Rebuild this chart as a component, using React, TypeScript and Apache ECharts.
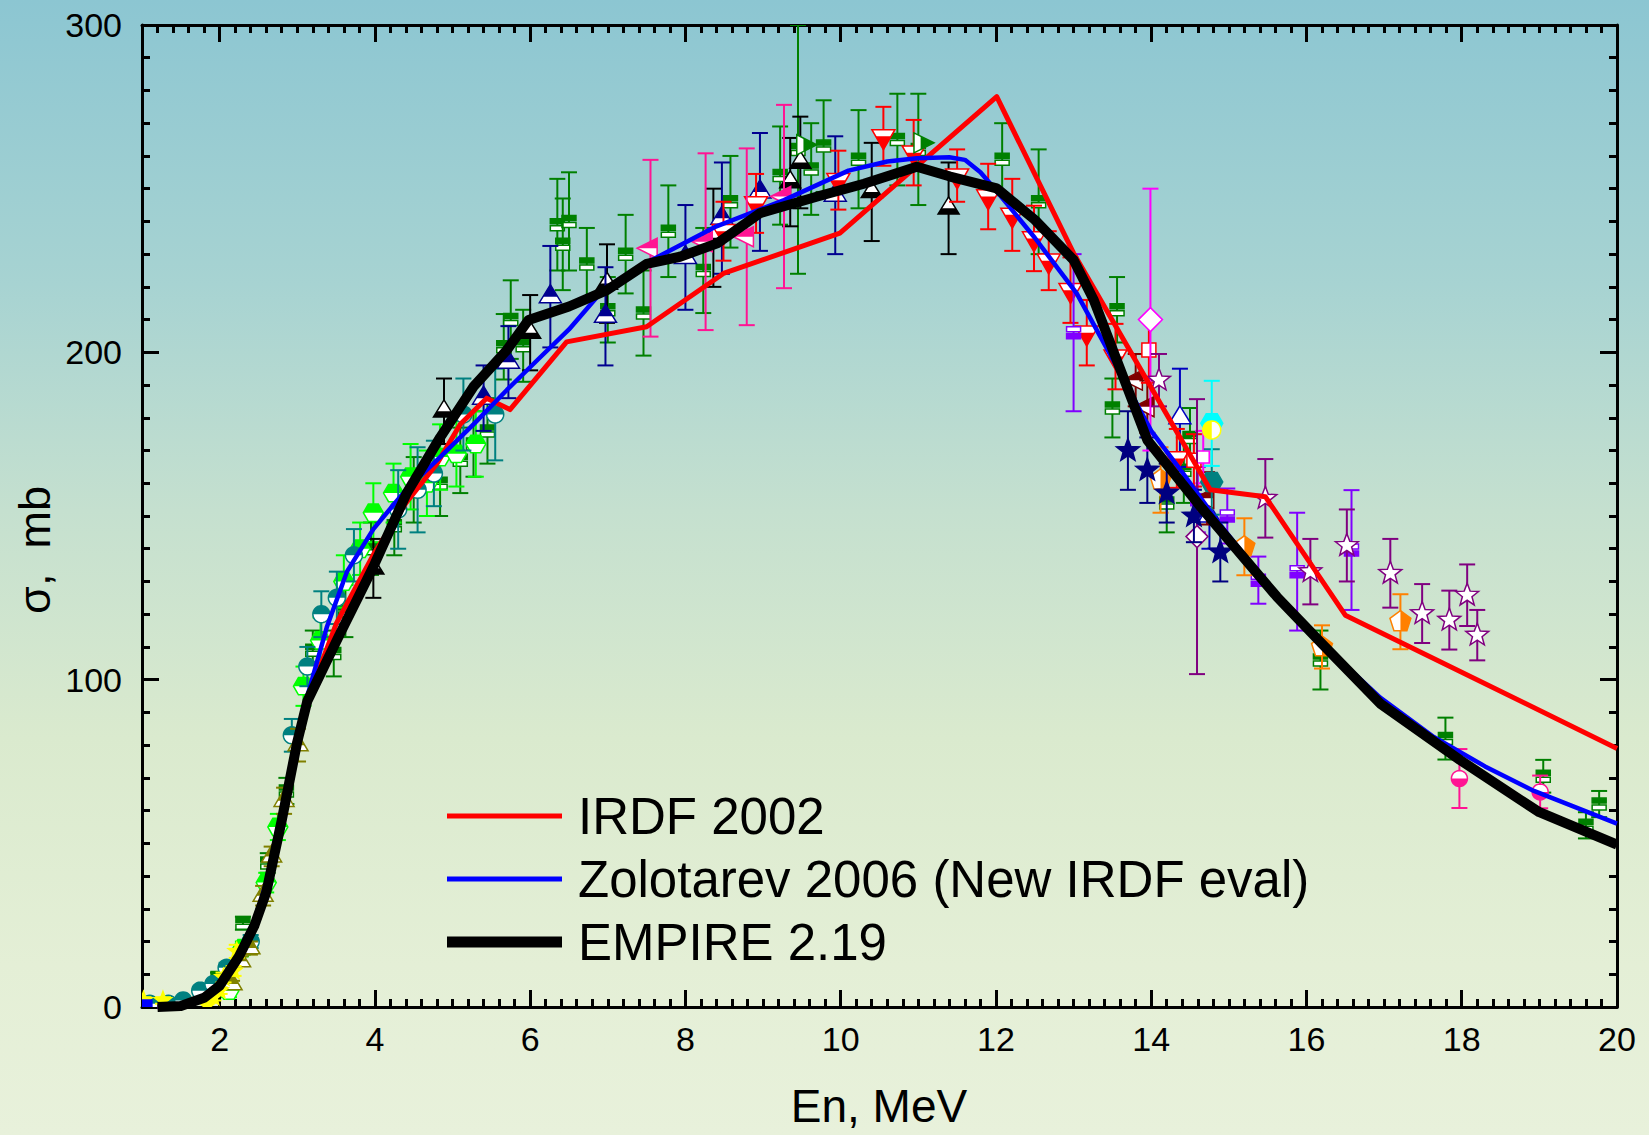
import React, { useEffect, useRef } from "react";
import * as echarts from "echarts";

const W = 1649;
const H = 1135;
const FONT = '"Liberation Sans", Arial, Helvetica, sans-serif';

// ---------- Evaluations [E (MeV), sigma (mb)] ----------
const irdf2002: number[][] = [
  [1.2, 0], [1.5, 0.3], [1.8, 2.5], [2.0, 6], [2.25, 15], [2.45, 25], [2.6, 36], [2.8, 58],
  [3.0, 81], [3.2, 98], [3.5, 117], [4.0, 139], [4.4, 154], [4.8, 166], [5.1, 178], [5.44, 186],
  [5.74, 182.5], [6.47, 203.2], [7.5, 207.8], [8.49, 224.1], [9.99, 236.4], [12.01, 278.1],
  [13.0, 230.3], [14.76, 158], [15.47, 155.9], [16.5, 119.7], [20.0, 79],
];
const zolotarev2006: number[][] = [
  [1.2, 0], [1.5, 0.3], [1.8, 2.5], [2.0, 6], [2.25, 15], [2.45, 26], [2.6, 38], [2.8, 60],
  [3.0, 83], [3.13, 95], [3.38, 116], [3.64, 133], [3.98, 146], [4.4, 158], [4.84, 168],
  [5.27, 178], [5.7, 188.5], [6.13, 198.5], [6.5, 207], [6.9, 218], [7.55, 228], [8.4, 238.5],
  [9.27, 246.5], [10.1, 255.5], [10.6, 258.3], [10.98, 259.3], [11.4, 259.6], [11.6, 258.8],
  [11.8, 255], [12.0, 249.5], [12.5, 235], [13.04, 218], [13.56, 195.5], [14.0, 176],
  [14.41, 163], [14.85, 148.5], [15.6, 126], [16.2, 111], [16.95, 94.5], [17.64, 82.5],
  [18.3, 73.5], [18.93, 66], [20.0, 56],
];
const empire219: number[][] = [
  [1.2, 0], [1.5, 0.3], [1.8, 2.8], [2.0, 6.5], [2.25, 15.5], [2.45, 25], [2.6, 35], [2.8, 57],
  [3.0, 81], [3.13, 93.5], [3.55, 114], [3.98, 134.5], [4.41, 157], [4.84, 174], [5.27, 189.5],
  [5.7, 200.7], [5.98, 209.9], [6.5, 214], [6.99, 219], [7.5, 227], [7.93, 229.2], [8.41, 233.3],
  [8.96, 242.5], [9.7, 247.6], [10.3, 251.5], [10.98, 256.7], [11.41, 253.7], [12.01, 250.1],
  [12.5, 240.5], [13.0, 228.2], [13.26, 216], [13.95, 173.2], [14.63, 153], [15.62, 125.3],
  [16.2, 111], [16.95, 92.7], [17.98, 75.4], [18.76, 63.2], [19.0, 59.5], [20.0, 49.6],
];

// ---------- Experimental data [E, sigma, dSigma] ----------
const expGreenRect: number[][] = [
  [1.98, 9, 1.5], [2.3, 25.6, 2], [2.62, 44, 3], [2.86, 66, 4], [3.2, 109, 6], [3.47, 108, 7],
  [3.62, 121, 8], [3.95, 140, 8], [4.25, 147, 9], [4.5, 158, 10], [4.84, 160, 10], [5.1, 167, 10],
  [5.27, 172, 10], [5.45, 176, 10], [5.66, 201.7, 10], [5.75, 210, 12], [5.91, 202, 11],
  [6.35, 239, 14], [6.5, 240, 15], [6.42, 233, 14], [6.73, 227, 11], [7.0, 213, 10],
  [7.23, 230, 12], [7.46, 212, 13], [7.78, 237, 14], [8.23, 225, 13], [8.58, 246, 14],
  [9.22, 254, 15], [9.45, 262, 38], [9.62, 256, 14], [9.78, 263, 14], [10.23, 259, 15],
  [10.73, 265, 14], [11.0, 262, 17], [12.08, 259, 11], [12.55, 246, 16], [13.5, 183, 9],
  [13.56, 213, 10], [14.2, 154, 9], [14.42, 164, 10], [14.5, 174, 9], [16.18, 106, 9],
  [17.79, 82, 6.4], [19.05, 70.5, 5], [19.6, 55.5, 4], [19.77, 62, 4],
];
const expLimeHex: number[][] = [
  [2.12, 5, 2], [2.3, 18, 2], [2.6, 38, 3], [2.75, 55, 4], [3.08, 98, 6], [3.3, 112, 7],
  [3.6, 130, 8], [3.81, 140, 8], [3.98, 151, 9], [4.24, 157, 9], [4.46, 162, 10], [4.67, 160, 10],
  [4.84, 168, 10], [5.05, 169, 10], [5.3, 172, 10],
];
const expTealCircle: number[][] = [
  [1.1, 1, 0.5], [1.34, 1, 0.5], [1.53, 2, 0.5], [1.75, 5, 1], [1.92, 7, 1], [2.09, 12, 1.5],
  [2.4, 20, 2], [2.93, 83, 5], [3.13, 104, 6], [3.31, 120, 7], [3.51, 125, 8], [3.73, 138, 8],
  [4.3, 152, 12], [4.55, 158, 13], [4.76, 163, 10], [5.14, 181, 11], [5.55, 181, 14],
];
const expOliveTri: number[][] = [
  [2.16, 7, 1], [2.27, 14, 1.5], [2.39, 18, 2], [2.56, 34, 3], [2.67, 46, 3], [2.83, 63, 4],
  [3.01, 80, 5],
];
const expYellowStar: number[][] = [
  [1.02, 2, 1], [1.27, 2, 1], [1.84, 0.5, 1], [1.92, 3, 1], [2.0, 5, 1], [2.05, 9, 1.5],
  [2.18, 11, 1.5], [2.22, 17, 2],
];
const expBlueSquare: number[][] = [[1.05, 0.3, 0]];
const expBlackTri: number[][] = [
  [3.98, 134, 9], [4.89, 182, 10], [6.0, 206, 11.5], [6.99, 221, 12], [8.36, 235, 15],
  [9.35, 252, 13.5], [9.48, 258, 14], [10.4, 249, 15], [11.39, 244, 14],
];
const expNavyTri: number[][] = [
  [5.4, 186, 10], [5.72, 197, 11], [6.26, 217, 15.5], [6.97, 211, 15], [8.0, 229, 16],
  [8.47, 241, 17], [8.96, 249, 18], [9.93, 248, 18],
];
const expNavyOpenTri: number[][] = [[14.37, 180, 15], [14.75, 150, 10]];
const expRedDownTri: number[][] = [
  [8.49, 237, 9], [8.91, 245.5, 9], [9.97, 252.6, 9], [10.55, 266, 9], [10.94, 261, 10],
  [11.5, 254, 8], [11.9, 247.6, 10], [12.21, 242, 11], [12.49, 234.8, 10], [12.68, 228, 9],
  [12.96, 219, 10], [13.17, 206, 10], [13.54, 198.7, 10], [14.33, 167.6, 9],
];
const expPinkLeftTri: number[][] = [
  [7.55, 231.8, 27], [8.26, 233.8, 27], [8.79, 235.3, 27], [9.27, 247.6, 28],
];
const expGreenRightTri: number[][] = [[9.52, 263.4, 0], [11.03, 264, 0]];
const expPurpleStar: number[][] = [
  [14.1, 191.5, 8], [15.47, 155.4, 12], [16.05, 133, 10], [16.52, 141, 11], [17.08, 132.5, 10.5],
  [17.49, 120.2, 9], [17.84, 118.2, 9], [18.07, 125.8, 9.4], [18.2, 113.6, 7.7],
];
const expNavyStar: number[][] = [
  [13.7, 170, 12], [13.95, 164, 10], [14.2, 157, 9], [14.55, 150, 8], [14.89, 139, 9],
];
const expVioletRect: number[][] = [
  [13.0, 206, 24], [14.6, 155, 10], [14.98, 150, 8.4], [15.38, 130.4, 7.2], [15.88, 133, 18],
  [16.58, 139.6, 18.3],
];
const expOrangePent: number[][] = [
  [14.12, 161, 10], [15.2, 140.6, 8.7], [16.2, 110, 6.6], [17.21, 117.7, 8.4],
];
const expPinkCircle: number[][] = [[17.97, 69.8, 9], [19.01, 65.7, 5]];
const expMagentaDiamond: number[][] = [[13.99, 210, 40]];
const expMagentaSquare: number[][] = [[14.67, 168, 8]];
const expPurpleDiamond: number[][] = [[14.59, 143.7, 42]];
const expCyanHex: number[][] = [[14.78, 178.3, 13]];
const expYellowCircle: number[][] = [[14.78, 176.3, 0]];
const expTealHex: number[][] = [[14.78, 160.4, 10]];
const expMaroonTri: number[][] = [[13.8, 191.5, 8], [13.95, 183.4, 8], [14.72, 155.4, 8]];
const expRedSquare: number[][] = [[13.97, 200.7, 10], [14.55, 167, 8]];

// ---------- tick labels ----------
const xTickLabels = ["2", "4", "6", "8", "10", "12", "14", "16", "18", "20"];
const yTickLabels = ["0", "100", "200", "300"];

const legendNames = ["IRDF 2002", "Zolotarev 2006 (New IRDF eval)", "EMPIRE 2.19"];

// ---------- marker geometry (style) ----------
type Spec = {
  name: string;
  data: number[][];
  color: string;
  shape: string;
  fill: string;
  w?: number;
  h?: number;
  r?: number;
};

const SPECS: Spec[] = [
  { name: "exp-green-rect", data: expGreenRect, color: "#008000", shape: "splitRect", fill: "top", w: 14, h: 5 },
  { name: "exp-lime-hex", data: expLimeHex, color: "#00FF00", shape: "hex", fill: "top", r: 10 },
  { name: "exp-teal-circle", data: expTealCircle, color: "#008080", shape: "circle", fill: "top", r: 8.5 },
  { name: "exp-olive-tri", data: expOliveTri, color: "#808000", shape: "triUp", fill: "top", w: 20, h: 17 },
  { name: "exp-yellow-star", data: expYellowStar, color: "#FFFF00", shape: "star", fill: "full", r: 9 },
  { name: "exp-blue-square", data: expBlueSquare, color: "#0000FF", shape: "square", fill: "full", r: 6 },
  { name: "exp-black-tri", data: expBlackTri, color: "#000000", shape: "triUp", fill: "bottom", w: 21, h: 17 },
  { name: "exp-navy-tri", data: expNavyTri, color: "#000090", shape: "triUp", fill: "top", w: 22, h: 18 },
  { name: "exp-navy-open-tri", data: expNavyOpenTri, color: "#0000C0", shape: "triUp", fill: "none", w: 22, h: 18 },
  { name: "exp-red-dtri", data: expRedDownTri, color: "#FF0000", shape: "triDown", fill: "bottom", w: 23, h: 20 },
  { name: "exp-pink-ltri", data: expPinkLeftTri, color: "#FF1493", shape: "triLeft", fill: "top", w: 20, h: 20 },
  { name: "exp-green-rtri", data: expGreenRightTri, color: "#008000", shape: "triRight", fill: "right", w: 20, h: 20 },
  { name: "exp-violet-rect", data: expVioletRect, color: "#8000FF", shape: "splitRect", fill: "bottom", w: 14, h: 5 },
  { name: "exp-orange-pent", data: expOrangePent, color: "#FF8000", shape: "pent", fill: "right", r: 11 },
  { name: "exp-pink-circle", data: expPinkCircle, color: "#FF1493", shape: "circle", fill: "bottom", r: 8 },
  { name: "exp-maroon-tri", data: expMaroonTri, color: "#800000", shape: "triLeft", fill: "top", w: 20, h: 20 },
  { name: "exp-red-square", data: expRedSquare, color: "#FF0000", shape: "square", fill: "none", r: 7 },
  { name: "exp-magenta-square", data: expMagentaSquare, color: "#FF00FF", shape: "square", fill: "none", r: 6 },
  { name: "exp-purple-diamond", data: expPurpleDiamond, color: "#800080", shape: "diamond", fill: "none", r: 11 },
  { name: "exp-navy-star", data: expNavyStar, color: "#000080", shape: "star", fill: "full", r: 12 },
  { name: "exp-teal-hex", data: expTealHex, color: "#008080", shape: "hex", fill: "full", r: 11 },
  { name: "exp-cyan-hex", data: expCyanHex, color: "#00FFFF", shape: "hex", fill: "full", r: 11 },
  { name: "exp-yellow-circle", data: expYellowCircle, color: "#FFFF00", shape: "circle", fill: "left", r: 9 },
  { name: "exp-magenta-diamond", data: expMagentaDiamond, color: "#FF00FF", shape: "diamond", fill: "none", r: 12 },
  { name: "exp-purple-star", data: expPurpleStar, color: "#800080", shape: "star", fill: "none", r: 12 },
];

function regPoly(n: number, r: number, rot: number): number[][] {
  const pts: number[][] = [];
  for (let i = 0; i < n; i++) {
    const a = rot + (2 * Math.PI * i) / n;
    pts.push([r * Math.cos(a), r * Math.sin(a)]);
  }
  return pts;
}
function starPts(r: number): number[][] {
  const pts: number[][] = [];
  for (let i = 0; i < 10; i++) {
    const a = -Math.PI / 2 + (Math.PI * i) / 5;
    const rr = i % 2 === 0 ? r : r * 0.42;
    pts.push([rr * Math.cos(a), rr * Math.sin(a)]);
  }
  return pts;
}
function shapePts(s: Spec): number[][] {
  const w = s.w || 20, h = s.h || 20, r = s.r || 9;
  switch (s.shape) {
    case "triUp": return [[0, (-2 * h) / 3], [w / 2, h / 3], [-w / 2, h / 3]];
    case "triDown": return [[0, (2 * h) / 3], [-w / 2, -h / 3], [w / 2, -h / 3]];
    case "triLeft": return [[(-2 * w) / 3, 0], [w / 3, -h / 2], [w / 3, h / 2]];
    case "triRight": return [[(2 * w) / 3, 0], [-w / 3, h / 2], [-w / 3, -h / 2]];
    case "hex": return regPoly(6, r, 0);
    case "pent": return regPoly(5, r, -Math.PI / 2);
    case "circle": return regPoly(28, r, 0);
    case "star": return starPts(r);
    case "diamond": return [[0, -r], [r, 0], [0, r], [-r, 0]];
    case "square": return [[-r, -r], [r, -r], [r, r], [-r, r]];
    default: return regPoly(28, r, 0);
  }
}
function clipHalf(pts: number[][], side: string): number[][] {
  const f = (p: number[]) =>
    side === "top" ? p[1] : side === "bottom" ? -p[1] : side === "left" ? p[0] : -p[0];
  const out: number[][] = [];
  for (let i = 0; i < pts.length; i++) {
    const a = pts[i], b = pts[(i + 1) % pts.length];
    const fa = f(a), fb = f(b);
    if (fa <= 0) out.push(a);
    if ((fa < 0 && fb > 0) || (fa > 0 && fb < 0)) {
      const t = fa / (fa - fb);
      out.push([a[0] + t * (b[0] - a[0]), a[1] + t * (b[1] - a[1])]);
    }
  }
  return out;
}

const CAP = 8;

function makeRender(s: Spec) {
  return (params: any, api: any) => {
    const x = api.value(0), y = api.value(1), e = api.value(2);
    const c = api.coord([x, y]);
    const cx = c[0], cy = c[1];
    const children: any[] = [];
    const ls = { stroke: s.color, lineWidth: 2 };
    if (e > 0) {
      const t = api.coord([x, y + e])[1];
      const b = api.coord([x, y - e])[1];
      children.push({ type: "line", shape: { x1: cx, y1: t, x2: cx, y2: b }, style: ls });
      children.push({ type: "line", shape: { x1: cx - CAP, y1: t, x2: cx + CAP, y2: t }, style: ls });
      children.push({ type: "line", shape: { x1: cx - CAP, y1: b, x2: cx + CAP, y2: b }, style: ls });
    }
    if (s.shape === "splitRect") {
      const w = s.w || 14, h = s.h || 5;
      const topFill = s.fill === "top";
      children.push({
        type: "rect",
        shape: { x: cx - w / 2, y: cy - h - 1, width: w, height: h },
        style: { fill: topFill ? s.color : "#FFFFFF", stroke: s.color, lineWidth: 1.5 },
      });
      children.push({
        type: "rect",
        shape: { x: cx - w / 2, y: cy + 1, width: w, height: h },
        style: { fill: topFill ? "#FFFFFF" : s.color, stroke: s.color, lineWidth: 1.5 },
      });
    } else {
      const base = shapePts(s);
      const abs = (p: number[][]) => p.map((q) => [cx + q[0], cy + q[1]]);
      children.push({
        type: "polygon",
        shape: { points: abs(base) },
        style: { fill: s.fill === "full" ? s.color : "#FFFFFF", stroke: s.color, lineWidth: 1.5 },
      });
      if (s.fill !== "full" && s.fill !== "none") {
        children.push({
          type: "polygon",
          shape: { points: abs(clipHalf(base, s.fill)) },
          style: { fill: s.color },
        });
      }
    }
    return { type: "group", children };
  };
}

const GRID = { left: 142, top: 25, right: 32, bottom: 128 };

function axisCommon(pos: string) {
  return {
    position: pos,
    axisLine: { show: true, onZero: false, lineStyle: { color: "#000", width: 3 } },
    axisTick: { show: true, inside: true, length: 17, lineStyle: { color: "#000", width: 3 } },
    minorTick: { show: true, splitNumber: 10, length: 8, lineStyle: { color: "#000", width: 3 } },
    splitLine: { show: false },
    minorSplitLine: { show: false },
  } as any;
}

export default function App() {
  const ref = useRef<HTMLDivElement>(null);
  useEffect(() => {
    if (!ref.current) return;
    const chart = echarts.init(ref.current, null, { renderer: "svg", width: W, height: H });

    const xLab = (v: number) => (xTickLabels.indexOf(String(v)) >= 0 ? String(v) : "");
    const yLab = (v: number) => (yTickLabels.indexOf(String(v)) >= 0 ? String(v) : "");
    const labelStyle = { color: "#000", fontSize: 34, fontFamily: FONT };

    const customSeries = SPECS.map((s) => ({
      type: "custom",
      name: s.name,
      xAxisIndex: 0,
      yAxisIndex: 0,
      data: s.data,
      encode: { x: 0, y: 1 },
      renderItem: makeRender(s),
      clip: true,
      z: 2,
      silent: true,
    }));

    const lineSeries = [
      { name: legendNames[0], data: irdf2002, color: "#FF0000", width: 5, z: 5 },
      { name: legendNames[1], data: zolotarev2006, color: "#0000FF", width: 4.5, z: 6 },
      { name: legendNames[2], data: empire219, color: "#000000", width: 10, z: 7 },
    ].map((l) => ({
      type: "line",
      name: l.name,
      xAxisIndex: 0,
      yAxisIndex: 0,
      data: l.data,
      showSymbol: false,
      symbol: "none",
      smooth: false,
      z: l.z,
      lineStyle: { color: l.color, width: l.width, join: "round", cap: "butt" },
      itemStyle: { color: l.color },
      silent: true,
    }));

    const legendY = [816, 879, 942];
    const legendColors = ["#FF0000", "#0000FF", "#000000"];
    const legendWidths = [5, 5, 11];
    const legendEls: any[] = [];
    legendNames.forEach((n, i) => {
      legendEls.push({
        type: "line",
        shape: { x1: 447, y1: legendY[i], x2: 562, y2: legendY[i] },
        style: { stroke: legendColors[i], lineWidth: legendWidths[i] },
        z: 100,
        silent: true,
      });
      legendEls.push({
        type: "text",
        x: 578,
        y: legendY[i],
        z: 100,
        silent: true,
        style: {
          text: n,
          fontSize: 51,
          fontFamily: FONT,
          fill: "#000",
          align: "left",
          verticalAlign: "middle",
          textAlign: "left",
          textVerticalAlign: "middle",
        },
      });
    });

    const option: any = {
      animation: false,
      backgroundColor: "transparent",
      grid: { ...GRID, containLabel: false, outerBoundsMode: "none" },
      xAxis: [
        {
          type: "value", min: 1, max: 20, minInterval: 2, maxInterval: 2, splitNumber: 10,
          ...axisCommon("bottom"),
          axisLabel: { show: true, margin: 15, showMinLabel: false, formatter: xLab, ...labelStyle },
        },
        {
          type: "value", min: 1, max: 20, minInterval: 2, maxInterval: 2, splitNumber: 10,
          ...axisCommon("top"),
          axisLabel: { show: false },
        },
      ],
      yAxis: [
        {
          type: "value", min: 0, max: 300, interval: 100,
          ...axisCommon("left"),
          axisLabel: { show: true, margin: 20, formatter: yLab, ...labelStyle },
        },
        {
          type: "value", min: 0, max: 300, interval: 100,
          ...axisCommon("right"),
          axisLabel: { show: false },
        },
      ],
      graphic: {
        elements: [
          {
            type: "rect",
            shape: { x: 0, y: 0, width: W, height: H },
            z: -100,
            silent: true,
            style: {
              fill: new echarts.graphic.LinearGradient(0, 0, 0, 1, [
                { offset: 0, color: "#8CC6D2" },
                { offset: 0.25, color: "#A7D3D2" },
                { offset: 0.45, color: "#C5E0CF" },
                { offset: 0.65, color: "#DAEACE" },
                { offset: 0.85, color: "#E4EFD6" },
                { offset: 1, color: "#E8F1DB" },
              ]),
            },
          },
          {
            type: "text",
            x: 879,
            y: 1106,
            z: 100,
            silent: true,
            style: {
              text: "En, MeV", fontSize: 46, fontFamily: FONT, fill: "#000",
              align: "center", verticalAlign: "middle", textAlign: "center", textVerticalAlign: "middle",
            },
          },
          {
            type: "text",
            x: 34,
            y: 550,
            rotation: Math.PI / 2,
            z: 100,
            silent: true,
            style: {
              text: "σ,  mb", fontSize: 45, fontFamily: FONT, fill: "#000",
              align: "center", verticalAlign: "middle", textAlign: "center", textVerticalAlign: "middle",
            },
          },
          ...legendEls,
        ],
      },
      series: [...customSeries, ...lineSeries],
    };
    chart.setOption(option);
    return () => chart.dispose();
  }, []);
  return (
    <div
      ref={ref}
      style={{ position: "absolute", left: 0, top: 0, width: W + "px", height: H + "px" }}
    />
  );
}
